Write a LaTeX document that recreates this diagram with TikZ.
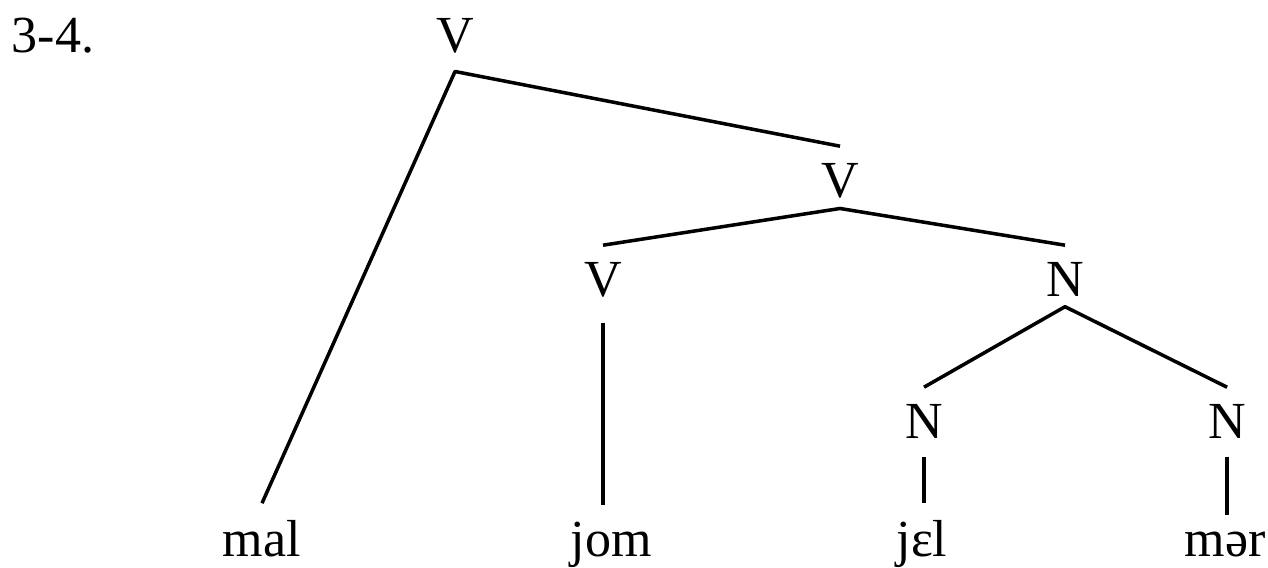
\documentclass[tikz,border=0pt]{standalone}
\usepackage{fontspec}
\setmainfont{Liberation Serif}
\begin{document}
\begin{tikzpicture}[x=0.01cm, y=-0.01cm,
        cat/.style={anchor=base, inner sep=0.17cm, font=\fontsize{14.8}{18}\selectfont},
        branch/.style={line width=1pt, line join=round}]
        \useasboundingbox (0,0) rectangle (1268,568);

        % Example Number
        \node[cat] (num) at (53,53) {3-4.};

        % Category Labels
        \node[cat] (vtop) at (455,53) {V};
        \node[cat] (vmid) at (840,198) {V};
        \node[cat] (vlow) at (603,297) {V};
        \node[cat] (nmid) at (1065,297) {N};
        \node[cat] (nleft) at (924,439) {N};
        \node[cat] (nright) at (1227,439) {N};

        % Words
        \node[cat] (mal) at (262,557) {mal};
        \node[cat] (jom) at (611,557) {jom};
        \node[cat] (jel) at (922,557) {jɛl};
        \node[cat] (mer) at (1225,557) {mər};

        % Branches
        \draw[branch] (mal.north) -- (vtop.south) -- (vmid.north);
        \draw[branch] (vlow.north) -- ([yshift=0.08cm]vmid.south) -- (nmid.north);
        \draw[branch, shorten <=0.08cm] (vlow.south) -- (vlow.south |- jom.north);
        \draw[branch] (nleft.north) -- ([yshift=0.08cm]nmid.south) -- (nright.north);
        \draw[branch] (nleft.south) -- (nleft.south |- jel.north);
        \draw[branch] (nright.south) -- (nright.south |- mer.north);
    \end{tikzpicture}
\end{document}
